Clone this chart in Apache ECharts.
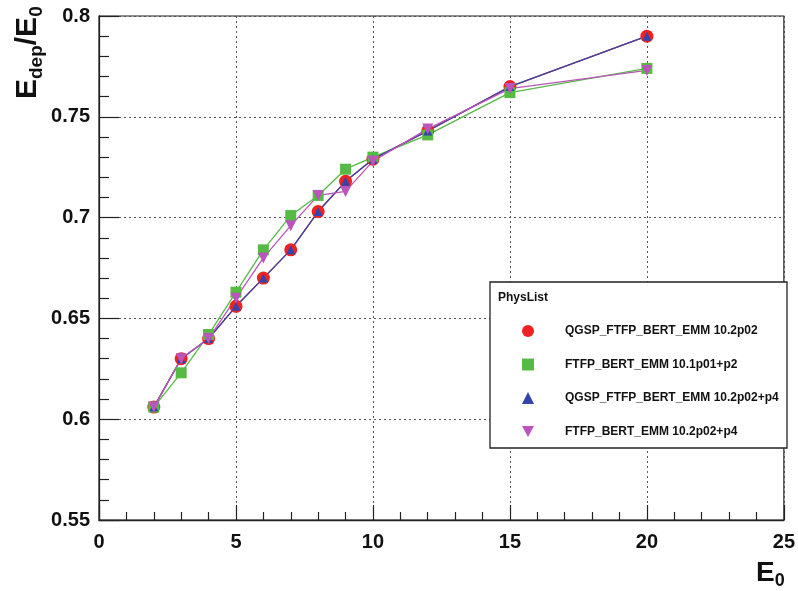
<!DOCTYPE html>
<html>
<head>
<meta charset="utf-8">
<script src="https://cdn.jsdelivr.net/npm/echarts@6/dist/echarts.min.js"></script>
<style>
  html, body { margin: 0; padding: 0; background: #fff; }
  #main { width: 798px; height: 591px; }
</style>
</head>
<body>
<div id="main"></div>
<script>
// beam energies
const energies = [2, 3, 4, 5, 6, 7, 8, 9, 10, 12, 15, 20];
// Edep/E0 for each physics list
const qgsp1022 = [0.606, 0.630, 0.640, 0.656, 0.670, 0.684, 0.703, 0.718, 0.729, 0.743, 0.765, 0.790];
const ftfp1012 = [0.606, 0.623, 0.642, 0.663, 0.684, 0.701, 0.711, 0.724, 0.730, 0.741, 0.762, 0.774];
const qgsp1022p4 = [0.606, 0.630, 0.640, 0.656, 0.670, 0.684, 0.703, 0.718, 0.729, 0.743, 0.765, 0.790];
const ftfp1022p4 = [0.606, 0.630, 0.640, 0.660, 0.680, 0.696, 0.711, 0.713, 0.728, 0.744, 0.764, 0.773];
const names = [
  'QGSP_FTFP_BERT_EMM 10.2p02',
  'FTFP_BERT_EMM 10.1p01+p2',
  'QGSP_FTFP_BERT_EMM 10.2p02+p4',
  'FTFP_BERT_EMM 10.2p02+p4'
];

const font = 'Liberation Sans, Arial, Helvetica, sans-serif';
const downTri = 'path://M0,0 L10,0 L5,9 Z';

function pairs(ys) {
  return energies.map((x, i) => [x, ys[i]]);
}

function mkSeries(name, ys, color, symbol, size) {
  return {
    name: name,
    type: 'line',
    data: pairs(ys),
    symbol: symbol,
    symbolSize: size,
    showAllSymbol: true,
    itemStyle: { color: color, opacity: 1 },
    lineStyle: { color: color, width: 1.3 },
    emphasis: { disabled: true },
    animation: false
  };
}

const chart = echarts.init(document.getElementById('main'));

chart.setOption({
  backgroundColor: '#fff',
  animation: false,
  grid: {
    left: 99, right: 9, top: 16, bottom: 71,
    show: true, borderColor: '#222', borderWidth: 1.2
  },
  xAxis: {
    type: 'value',
    min: 0, max: 25, interval: 5,
    axisLine: { show: true, onZero: false, lineStyle: { color: '#222', width: 1.3 } },
    axisTick: { show: true, inside: true, length: 15, lineStyle: { color: '#222', width: 1.2 } },
    minorTick: { show: true, splitNumber: 5, length: 8, lineStyle: { color: '#222', width: 1.2 } },
    axisLabel: { fontSize: 20, fontWeight: 'bold', color: '#111', fontFamily: font, margin: 12 },
    splitLine: { show: true, lineStyle: { color: '#555', type: [2, 3], width: 1 } }
  },
  yAxis: {
    type: 'value',
    min: 0.55, max: 0.8, interval: 0.05,
    axisLine: { show: true, onZero: false, lineStyle: { color: '#222', width: 1.3 } },
    axisTick: { show: true, inside: true, length: 20, lineStyle: { color: '#222', width: 1.2 } },
    minorTick: { show: true, splitNumber: 5, length: 10, lineStyle: { color: '#222', width: 1.2 } },
    axisLabel: { fontSize: 20, fontWeight: 'bold', color: '#111', fontFamily: font, margin: 9 },
    splitLine: { show: true, lineStyle: { color: '#555', type: [2, 3], width: 1 } }
  },
  legend: {
    z: 20,
    orient: 'vertical',
    left: 522, top: 324,
    padding: 0,
    itemWidth: 12, itemHeight: 12,
    itemGap: 19.5,
    selectedMode: false,
    textStyle: { fontSize: 12, fontWeight: 'bold', color: '#111', fontFamily: font, lineHeight: 14, padding: [0, 0, 0, 26] },
    data: [
      { name: names[0], icon: 'circle' },
      { name: names[1], icon: 'rect' },
      { name: names[2], icon: 'triangle' },
      { name: names[3], icon: downTri }
    ]
  },
  graphic: [
    {
      type: 'rect', z: 5,
      shape: { x: 490, y: 282, width: 297, height: 166 },
      style: { fill: '#fff', stroke: '#222', lineWidth: 1.3 }
    },
    {
      type: 'text', z: 6, x: 498, y: 298,
      style: { text: 'PhysList', font: 'bold 12px ' + font, fill: '#111', verticalAlign: 'middle' }
    },
    {
      type: 'text', z: 6, x: 13, y: 99, rotation: Math.PI / 2,
      style: {
        text: '{b|E}{s|dep}{b|/E}{s|0}',
        rich: {
          b: { fontSize: 30, fontWeight: 'bold', fontFamily: font, fill: '#111', lineHeight: 34, verticalAlign: 'top' },
          s: { fontSize: 19, fontWeight: 'bold', fontFamily: font, fill: '#111', lineHeight: 34, verticalAlign: 'top', padding: [14, 0, 0, 0] }
        }
      }
    },
    {
      type: 'text', z: 6, x: 756, y: 559,
      style: {
        text: '{b|E}{s|0}',
        rich: {
          b: { fontSize: 28, fontWeight: 'bold', fontFamily: font, fill: '#111', lineHeight: 32, verticalAlign: 'top' },
          s: { fontSize: 18, fontWeight: 'bold', fontFamily: font, fill: '#111', lineHeight: 32, verticalAlign: 'top', padding: [13, 0, 0, 0] }
        }
      }
    }
  ],
  series: [
    mkSeries(names[0], qgsp1022, '#ee2222', 'circle', 13),
    mkSeries(names[1], ftfp1012, '#55bb44', 'rect', 11),
    mkSeries(names[2], qgsp1022p4, '#3344aa', 'triangle', 9),
    mkSeries(names[3], ftfp1022p4, '#bb55bb', downTri, 11)
  ]
});
</script>
</body>
</html>
